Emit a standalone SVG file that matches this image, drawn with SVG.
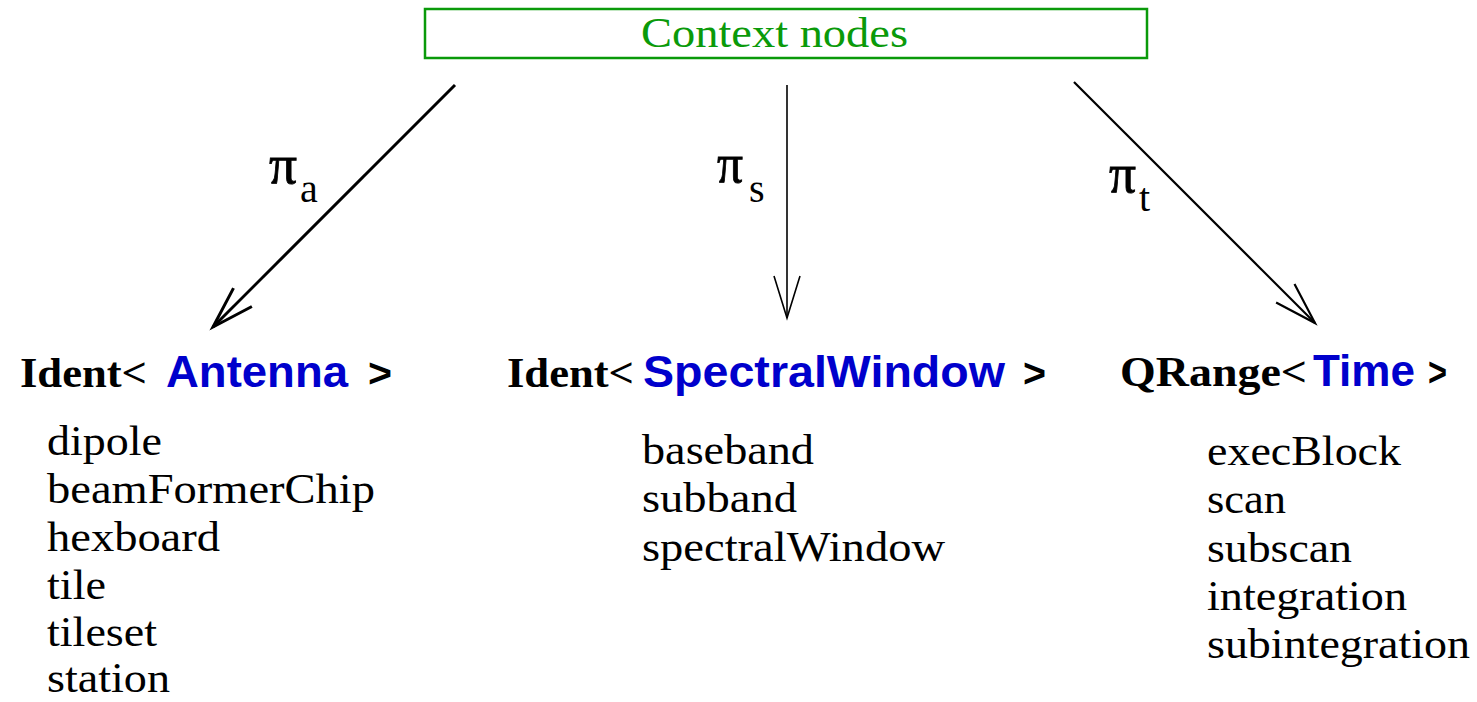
<svg xmlns="http://www.w3.org/2000/svg" width="1477" height="702" viewBox="0 0 1477 702">
  <style>
    .serif { font-family: "Liberation Serif", "Times New Roman", serif; font-size: 42px; fill: #000; }
    .bold { font-weight: bold; }
    .type { font-family: "Liberation Sans", Arial, sans-serif; font-weight: bold; font-size: 44px; fill: #0000cc; }
    .gt { font-family: "Liberation Sans", Arial, sans-serif; font-weight: bold; font-size: 40px; fill: #000; }
    .ctx { fill: #fff; stroke: #0a9a0a; stroke-width: 2.5; }
    .ctx-label { font-family: "Liberation Serif", "Times New Roman", serif; font-size: 42px; fill: #0a9a0a; }
    .edge { fill: none; stroke: #000; }
    .pi { font-family: "Liberation Serif", "Times New Roman", serif; font-size: 40px; fill: #000; }
    .pi-sym { font-family: "Liberation Serif", "Times New Roman", serif; font-size: 54px; fill: #000; stroke: #000; stroke-width: 0.8; }
  </style>
  <defs>
    <marker id="vee-thick" markerUnits="userSpaceOnUse" orient="auto" refX="0" refY="0" overflow="visible">
      <path d="M-42,-13 L0,0 L-42,13" fill="none" stroke="#000" stroke-width="3"/>
    </marker>
    <marker id="vee-mid" markerUnits="userSpaceOnUse" orient="auto" refX="0" refY="0" overflow="visible">
      <path d="M-42,-13 L0,0 L-42,13" fill="none" stroke="#000" stroke-width="2.2"/>
    </marker>
    <marker id="vee-thin" markerUnits="userSpaceOnUse" orient="auto" refX="0" refY="0" overflow="visible">
      <path d="M-42,-13 L0,0 L-42,13" fill="none" stroke="#000" stroke-width="1.6"/>
    </marker>
  </defs>

  <rect width="1477" height="702" fill="#fff"/>

  <!-- root -->
  <g id="context-nodes">
    <rect class="ctx" x="425" y="9" width="722" height="49"/>
    <text class="ctx-label" x="641" y="47" textLength="267" lengthAdjust="spacingAndGlyphs">Context nodes</text>
  </g>

  <!-- projections -->
  <g id="connectors">
    <line class="edge" x1="455" y1="85" x2="213" y2="327" stroke-width="3" marker-end="url(#vee-thick)"/>
    <line class="edge" x1="787" y1="85" x2="787" y2="318" stroke-width="1.6" marker-end="url(#vee-thin)"/>
    <line class="edge" x1="1074" y1="82" x2="1315" y2="323" stroke-width="2.2" marker-end="url(#vee-mid)"/>

    <text class="pi-sym" x="269" y="183" textLength="28" lengthAdjust="spacingAndGlyphs">π</text>
    <text class="pi" x="300" y="202">a</text>
    <text class="pi-sym" x="717" y="182" textLength="26" lengthAdjust="spacingAndGlyphs">π</text>
    <text class="pi" x="749" y="202">s</text>
    <text class="pi-sym" x="1109" y="192" textLength="27" lengthAdjust="spacingAndGlyphs">π</text>
    <text class="pi" x="1139" y="211">t</text>
  </g>

  <!-- antenna identifiers -->
  <g id="ident-antenna">
    <text class="serif bold" x="20" y="387" textLength="127" lengthAdjust="spacingAndGlyphs">Ident&lt;</text>
    <text class="type" x="166" y="387" textLength="182" lengthAdjust="spacingAndGlyphs">Antenna</text>
    <text class="gt" x="368" y="387" textLength="24" lengthAdjust="spacingAndGlyphs">&gt;</text>
    <text class="serif" x="47" y="455" textLength="115" lengthAdjust="spacingAndGlyphs">dipole</text>
    <text class="serif" x="47" y="503" textLength="328" lengthAdjust="spacingAndGlyphs">beamFormerChip</text>
    <text class="serif" x="47" y="551" textLength="173" lengthAdjust="spacingAndGlyphs">hexboard</text>
    <text class="serif" x="47" y="599" textLength="59" lengthAdjust="spacingAndGlyphs">tile</text>
    <text class="serif" x="47" y="646" textLength="110" lengthAdjust="spacingAndGlyphs">tileset</text>
    <text class="serif" x="47" y="692" textLength="123" lengthAdjust="spacingAndGlyphs">station</text>
  </g>

  <!-- spectral window identifiers -->
  <g id="ident-spectral-window">
    <text class="serif bold" x="507" y="387" textLength="127" lengthAdjust="spacingAndGlyphs">Ident&lt;</text>
    <text class="type" x="643" y="387" textLength="362" lengthAdjust="spacingAndGlyphs">SpectralWindow</text>
    <text class="gt" x="1023" y="387" textLength="23" lengthAdjust="spacingAndGlyphs">&gt;</text>
    <text class="serif" x="642" y="464" textLength="172" lengthAdjust="spacingAndGlyphs">baseband</text>
    <text class="serif" x="642" y="512" textLength="155" lengthAdjust="spacingAndGlyphs">subband</text>
    <text class="serif" x="642" y="561" textLength="303" lengthAdjust="spacingAndGlyphs">spectralWindow</text>
  </g>

  <!-- time ranges -->
  <g id="qrange-time">
    <text class="serif bold" x="1120" y="386" textLength="187" lengthAdjust="spacingAndGlyphs">QRange&lt;</text>
    <text class="type" x="1313" y="386" textLength="102" lengthAdjust="spacingAndGlyphs">Time</text>
    <text class="gt" x="1428" y="386" textLength="19" lengthAdjust="spacingAndGlyphs">&gt;</text>
    <text class="serif" x="1207" y="465" textLength="194" lengthAdjust="spacingAndGlyphs">execBlock</text>
    <text class="serif" x="1207" y="513" textLength="79" lengthAdjust="spacingAndGlyphs">scan</text>
    <text class="serif" x="1207" y="562" textLength="145" lengthAdjust="spacingAndGlyphs">subscan</text>
    <text class="serif" x="1207" y="610" textLength="200" lengthAdjust="spacingAndGlyphs">integration</text>
    <text class="serif" x="1207" y="658" textLength="263" lengthAdjust="spacingAndGlyphs">subintegration</text>
  </g>
</svg>
